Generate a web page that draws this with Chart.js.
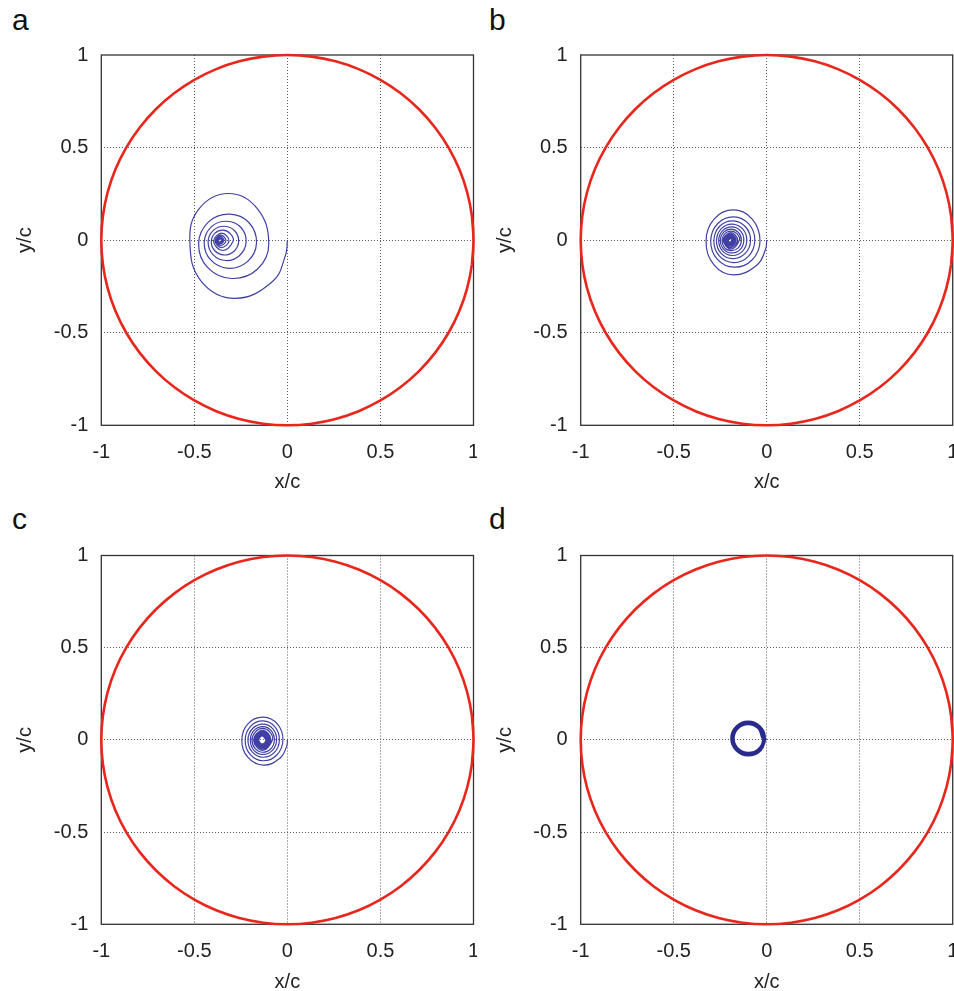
<!DOCTYPE html>
<html lang="en">
<head>
<meta charset="UTF-8">
<title>Orbits inside the unit circle</title>
<script src="https://cdn.jsdelivr.net/npm/chart.js"></script>
<style>
  body { margin: 0; background: #fff; width: 954px; height: 991px; overflow: hidden; position: relative;
         font-family: "Liberation Sans", Arial, sans-serif; }
  canvas { position: absolute; }
  .tag { position: absolute; font-size: 30px; line-height: 30px; color: #111; }
</style>
</head>
<body>
<div class="tag" style="left:12px;top:5px">a</div>
<div class="tag" style="left:489px;top:5px">b</div>
<div class="tag" style="left:12px;top:504px">c</div>
<div class="tag" style="left:489px;top:504px">d</div>
<canvas id="pa" width="477" height="494" style="left:0;top:0"></canvas>
<canvas id="pb" width="474" height="494" style="left:480px;top:0"></canvas>
<canvas id="pc" width="477" height="494" style="left:0;top:500px"></canvas>
<canvas id="pd" width="474" height="494" style="left:480px;top:500px"></canvas>
<script>
// boundary circle (x/c, y/c), every 7.5 degrees, a little overlap at the ends
const circleX = [0.9914, 1, 0.9914, 0.9659, 0.9239, 0.8660, 0.7934, 0.7071, 0.6088, 0.5, 0.3827, 0.2588, 0.1305,
  0, -0.1305, -0.2588, -0.3827, -0.5, -0.6088, -0.7071, -0.7934, -0.8660, -0.9239, -0.9659, -0.9914,
  -1, -0.9914, -0.9659, -0.9239, -0.8660, -0.7934, -0.7071, -0.6088, -0.5, -0.3827, -0.2588, -0.1305,
  0, 0.1305, 0.2588, 0.3827, 0.5, 0.6088, 0.7071, 0.7934, 0.8660, 0.9239, 0.9659, 0.9914, 1, 0.9914];
const circleY = [-0.1305, 0, 0.1305, 0.2588, 0.3827, 0.5, 0.6088, 0.7071, 0.7934, 0.8660, 0.9239, 0.9659, 0.9914,
  1, 0.9914, 0.9659, 0.9239, 0.8660, 0.7934, 0.7071, 0.6088, 0.5, 0.3827, 0.2588, 0.1305,
  0, -0.1305, -0.2588, -0.3827, -0.5, -0.6088, -0.7071, -0.7934, -0.8660, -0.9239, -0.9659, -0.9914,
  -1, -0.9914, -0.9659, -0.9239, -0.8660, -0.7934, -0.7071, -0.6088, -0.5, -0.3827, -0.2588, -0.1305, 0, 0.1305];

// panel a trajectory
const orbitAX = [0.000, -0.010, -0.080, -0.282, -0.463, -0.524, -0.476, -0.318, -0.163,
  -0.100, -0.160, -0.299, -0.429, -0.477, -0.424, -0.310, -0.206,
  -0.166, -0.215, -0.318, -0.412, -0.447, -0.409, -0.325, -0.248,
  -0.222, -0.258, -0.331, -0.400, -0.426, -0.398, -0.337, -0.281,
  -0.262, -0.288, -0.341, -0.391, -0.409, -0.389, -0.346, -0.306,
  -0.292, -0.349, -0.397, -0.352, -0.314, -0.355, -0.389, -0.357,
  -0.330, -0.358, -0.383, -0.360, -0.341, -0.361, -0.379, -0.362,
  -0.348, -0.363, -0.376, -0.364, -0.354, -0.365, -0.373, -0.365, -0.367];
const orbitAY = [0.000, -0.081, -0.223, -0.314, -0.222, -0.012, 0.168, 0.252, 0.172,
  -0.020, -0.156, -0.207, -0.147, -0.019, 0.099, 0.141, 0.094,
  -0.016, -0.116, -0.152, -0.107, -0.014, 0.072, 0.102, 0.067,
  -0.012, -0.084, -0.110, -0.078, -0.010, 0.053, 0.075, 0.048,
  -0.009, -0.061, -0.080, -0.056, -0.007, 0.038, 0.054, 0.034,
  -0.006, -0.056, -0.005, 0.038, -0.004, -0.040, -0.004, 0.027,
  -0.003, -0.029, -0.003, 0.020, -0.002, -0.020, -0.002, 0.014,
  -0.002, -0.015, -0.001, 0.010, -0.001, -0.010, -0.001, 0.006, 0.000];

// panel b trajectory
const orbitBX = [0.000, -0.006, -0.052, -0.178, -0.283, -0.326, -0.283, -0.180, -0.078,
  -0.036, -0.079, -0.175, -0.266, -0.301, -0.263, -0.177, -0.095,
  -0.064, -0.100, -0.179, -0.255, -0.284, -0.253, -0.181, -0.113,
  -0.087, -0.117, -0.183, -0.246, -0.270, -0.244, -0.185, -0.128,
  -0.107, -0.131, -0.186, -0.238, -0.258, -0.237, -0.187, -0.140,
  -0.123, -0.143, -0.189, -0.232, -0.249, -0.231, -0.190, -0.151,
  -0.136, -0.153, -0.191, -0.227, -0.240, -0.225, -0.192, -0.159,
  -0.147, -0.192, -0.234, -0.193, -0.156, -0.194, -0.228, -0.195,
  -0.164, -0.195, -0.224, -0.196, -0.170, -0.196, -0.220, -0.197,
  -0.175, -0.197, -0.217, -0.197, -0.180, -0.198, -0.214, -0.198,
  -0.183, -0.198, -0.212, -0.198, -0.186, -0.199, -0.210, -0.199,
  -0.189, -0.199, -0.208, -0.200, -0.201];
const orbitBY = [0.000, -0.049, -0.134, -0.188, -0.134, -0.004, 0.114, 0.163, 0.114,
  -0.004, -0.107, -0.146, -0.102, -0.004, 0.090, 0.126, 0.086,
  -0.003, -0.089, -0.121, -0.085, -0.003, 0.075, 0.104, 0.071,
  -0.003, -0.073, -0.100, -0.070, -0.003, 0.062, 0.087, 0.059,
  -0.002, -0.061, -0.083, -0.058, -0.002, 0.051, 0.072, 0.049,
  -0.002, -0.051, -0.069, -0.048, -0.002, 0.043, 0.060, 0.041,
  -0.002, -0.042, -0.057, -0.040, -0.001, 0.035, 0.049, 0.034,
  -0.001, -0.048, -0.001, 0.041, -0.001, -0.040, -0.001, 0.034,
  -0.001, -0.033, -0.001, 0.028, 0.000, -0.027, 0.000, 0.024,
  0.000, -0.023, 0.000, 0.020, 0.000, -0.019, 0.000, 0.016,
  0.000, -0.016, 0.000, 0.013, 0.000, -0.013, 0.000, 0.011,
  0.000, -0.011, 0.000, 0.009, 0.000];

// panel c trajectory
const orbitCX = [0.000, -0.004, -0.039, -0.129, -0.213, -0.245, -0.210, -0.129, -0.053,
  -0.024, -0.057, -0.130, -0.200, -0.227, -0.197, -0.130, -0.067,
  -0.043, -0.070, -0.131, -0.189, -0.212, -0.187, -0.131, -0.078,
  -0.058, -0.081, -0.132, -0.181, -0.199, -0.179, -0.132, -0.087,
  -0.070, -0.089, -0.132, -0.174, -0.190, -0.172, -0.133, -0.095,
  -0.080, -0.133, -0.182, -0.133, -0.088, -0.133, -0.176, -0.134,
  -0.094, -0.134, -0.171, -0.134, -0.099, -0.134, -0.167, -0.134,
  -0.103, -0.134, -0.164, -0.134, -0.106, -0.134, -0.161, -0.134,
  -0.109, -0.135, -0.159, -0.135, -0.111, -0.135, -0.158, -0.135,
  -0.112, -0.135, -0.156, -0.135, -0.114, -0.135, -0.155, -0.135,
  -0.115, -0.135, -0.154, -0.135, -0.115];
const orbitCY = [0.000, -0.035, -0.098, -0.137, -0.094, 0.000, 0.090, 0.124, 0.086,
  0.000, -0.082, -0.113, -0.078, 0.000, 0.075, 0.103, 0.071,
  0.000, -0.068, -0.094, -0.065, 0.000, 0.062, 0.086, 0.060,
  0.000, -0.057, -0.079, -0.055, 0.000, 0.052, 0.072, 0.050,
  0.000, -0.048, -0.067, -0.046, 0.000, 0.044, 0.062, 0.043,
  0.000, -0.057, 0.000, 0.053, 0.000, -0.049, 0.000, 0.046,
  0.000, -0.043, 0.000, 0.040, 0.000, -0.038, 0.000, 0.036,
  0.000, -0.034, 0.000, 0.032, 0.000, -0.031, 0.000, 0.029,
  0.000, -0.028, 0.000, 0.027, 0.000, -0.026, 0.000, 0.025,
  0.000, -0.0245, 0.000, 0.024, 0.000, -0.023, 0.000, 0.0227,
  0.000, -0.022, 0.000, 0.022, 0.000];

// panel d trajectory
const orbitDX = [-0.006, -0.034, -0.099, -0.163, -0.189, -0.162, -0.099, -0.037,
  -0.011, -0.038, -0.099, -0.160, -0.184, -0.159, -0.099, -0.040,
  -0.017, -0.041, -0.099, -0.156, -0.179, -0.155, -0.099, -0.044, -0.022];
const orbitDY = [0.009, -0.056, -0.083, -0.055, 0.009, 0.072, 0.098, 0.071,
  0.009, -0.053, -0.077, -0.052, 0.009, 0.069, 0.093, 0.068,
  0.009, -0.049, -0.072, -0.048, 0.009, 0.065, 0.087, 0.064, 0.009];

const FONT = '"Liberation Sans", Arial, sans-serif';

function pts(xs, ys) {
    return xs.map((x, i) => ({ x: x, y: ys[i] }));
}

// box round the plot area, drawn under the curves
const framePlugin = {
    id: 'frame',
    beforeDatasetsDraw(chart) {
        const a = chart.chartArea;
        const ctx = chart.ctx;
        ctx.save();
        ctx.strokeStyle = '#333';
        ctx.lineWidth = 1.3;
        ctx.strokeRect(a.left, a.top, a.right - a.left, a.bottom - a.top);
        ctx.restore();
    }
};

function axis(title, isX, size) {
    return {
        type: 'linear',
        min: -1,
        max: 1,
        afterFit: s => {
            if (isX) s.height = size; else s.width = size;
            // no extra room for the end labels
            s.paddingLeft = 0; s.paddingRight = 0; s.paddingTop = 0; s.paddingBottom = 0;
        },
        ticks: {
            stepSize: 0.5,
            color: '#222',
            padding: isX ? 15 : 13,
            font: { family: FONT, size: 20 },
            callback: v => String(v)
        },
        grid: {
            drawTicks: false,
            lineWidth: 1,
            color: c => (c.tick && Math.abs(c.tick.value) === 1) ? 'rgba(0,0,0,0)' : '#5a5a5a'
        },
        border: { display: false, dash: [1, 2] },
        title: {
            display: true,
            text: title,
            color: '#222',
            font: { family: FONT, size: 20 },
            padding: isX ? { top: 0, bottom: 0 } : { top: 13, bottom: 0 }
        }
    };
}

function makePanel(id, ox, oy, color, width, yWidth, xHeight, pad) {
    new Chart(document.getElementById(id), {
        type: 'line',
        data: {
            datasets: [
                {
                    data: pts(ox, oy),
                    borderColor: color,
                    borderWidth: width,
                    pointRadius: 0,
                    tension: 0.42,
                    fill: false,
                    clip: false
                },
                {
                    data: pts(circleX, circleY),
                    borderColor: '#e8261c',
                    borderWidth: 2.6,
                    pointRadius: 0,
                    tension: 0.4,
                    fill: false,
                    clip: false
                }
            ]
        },
        options: {
            responsive: false,
            animation: false,
            events: [],
            layout: { padding: pad },
            plugins: { legend: { display: false }, tooltip: { enabled: false } },
            scales: {
                x: axis('x/c', true, xHeight),
                y: axis('y/c', false, yWidth)
            }
        },
        plugins: [framePlugin]
    });
}

makePanel('pa', orbitAX, orbitAY, '#4040a4', 1.2, 101.3, 68.7, { top: 55, right: 3.5, left: 0, bottom: 0 });
makePanel('pb', orbitBX, orbitBY, '#4040a4', 1.2, 100.7, 68.7, { top: 55, right: 1.3, left: 0, bottom: 0 });
makePanel('pc', orbitCX, orbitCY, '#4040a4', 1.2, 101.3, 69.7, { top: 55.5, right: 3.5, left: 0, bottom: 0 });
makePanel('pd', orbitDX, orbitDY, '#2a2a8e', 2.7, 100.7, 69.7, { top: 55.5, right: 1.3, left: 0, bottom: 0 });
</script>
</body>
</html>
